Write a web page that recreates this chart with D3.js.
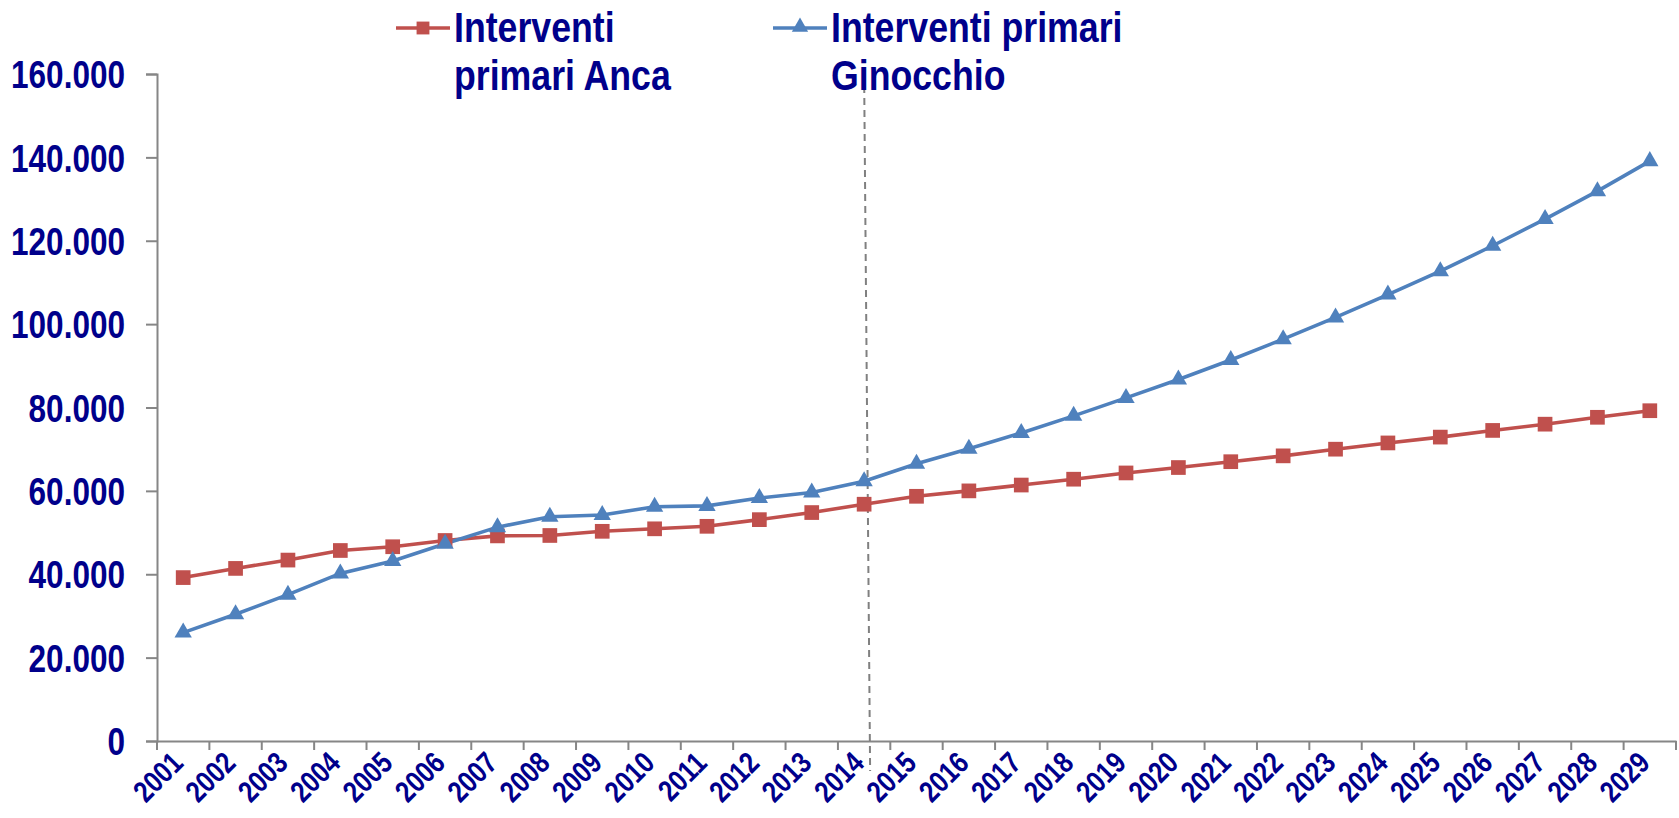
<!DOCTYPE html>
<html><head><meta charset="utf-8">
<script src="https://cdn.jsdelivr.net/npm/d3@7"></script>
<style>
html,body{margin:0;padding:0;background:#fff;}
svg{display:block;}
text{font-family:"Liberation Sans",Arial,sans-serif;font-weight:bold;fill:#00008B;}
</style></head>
<body>
<svg id="chart" width="1679" height="818"></svg>
<script>
const years = ["2001","2002","2003","2004","2005","2006","2007","2008","2009","2010","2011","2012","2013","2014","2015","2016","2017","2018","2019","2020","2021","2022","2023","2024","2025","2026","2027","2028","2029"];
const anca = [39200,41400,43400,45700,46600,48100,49200,49300,50300,50900,51500,53100,54800,56800,58700,60000,61400,62800,64300,65600,67000,68400,70000,71500,72900,74500,76000,77650,79230];
const ginocchio = [26000,30400,35100,40200,43200,47300,51300,53800,54200,56200,56400,58300,59600,62300,66500,70100,73900,78000,82300,86700,91400,96400,101600,107100,112700,118800,125200,131900,139100];
const yTicks = [0,20000,40000,60000,80000,100000,120000,140000,160000];
const seriesNames = [["Interventi","primari Anca"],["Interventi primari","Ginocchio"]];
const dividerYear = "2014";

const colors = ["#C0504D","#4F81BD"];
const SX = 0.83; // horizontal condensing to imitate a narrow font
const svg = d3.select("#chart");
const m = {left:157, right:3, top:74, bottom:77};
const W = 1679, H = 818;
const x = d3.scaleBand().domain(years).range([m.left, W-m.right]).padding(0);
const y = d3.scaleLinear().domain([0,160000]).range([H-m.bottom, m.top]);
const loc = d3.formatLocale({decimal:",",thousands:".",grouping:[3],currency:["",""]});
const fmt = loc.format(",");
const axisColor = "#868686";

// y axis
const ya = svg.append("g").attr("transform",`translate(${m.left},0)`)
  .call(d3.axisLeft(y).tickValues(yTicks).tickFormat(fmt).tickSize(11).tickPadding(21));
ya.select(".domain").attr("stroke",axisColor).attr("stroke-width",2);
ya.selectAll(".tick line").attr("stroke",axisColor).attr("stroke-width",2);
ya.selectAll(".tick text").attr("font-size",38).attr("dy","0.36em").attr("fill","#00008B")
  .attr("x",-32/SX).attr("transform",`scale(${SX},1)`);

// x axis
const xa = svg.append("g").attr("transform",`translate(0,${y(0)})`)
  .call(d3.axisBottom(x).tickSize(0).tickFormat(""));
xa.select(".domain").attr("stroke",axisColor).attr("stroke-width",2);
xa.selectAll(".tick").remove();
const bounds = years.map(d=>x(d)).concat([x(years[years.length-1])+x.bandwidth()]);
svg.append("g").selectAll("line").data(bounds).join("line")
  .attr("x1",d=>d).attr("x2",d=>d).attr("y1",y(0)).attr("y2",y(0)+9)
  .attr("stroke",axisColor).attr("stroke-width",2);
svg.append("g").selectAll("text").data(years).join("text")
  .attr("transform",d=>`translate(${x(d)+x.bandwidth()/2-6},${y(0)+16}) rotate(-45) scale(${SX},1)`)
  .attr("text-anchor","end").attr("dy","0.36em").attr("font-size",30).text(d=>d);

// dashed divider
const dx = x(dividerYear)+x.bandwidth()/2;
svg.append("line").attr("x1",dx).attr("y1",y(160000)).attr("x2",dx+6).attr("y2",y(0)+30)
  .attr("stroke","#808080").attr("stroke-width",2).attr("stroke-dasharray","7,5");

// lines
const cx = d=>x(d)+x.bandwidth()/2;
const line = d3.line().x((d,i)=>cx(years[i])).y(d=>y(d));
[anca,ginocchio].forEach((s,k)=>{
  svg.append("path").datum(s).attr("d",line).attr("fill","none").attr("stroke",colors[k]).attr("stroke-width",3.6);
});
const sq = d3.symbol().type(d3.symbolSquare).size(216);
const tri = d3.symbol().type(d3.symbolTriangle).size(130);
svg.append("g").selectAll("path").data(anca).join("path")
  .attr("d",sq).attr("transform",(d,i)=>`translate(${cx(years[i])},${y(d)})`).attr("fill",colors[0]);
svg.append("g").selectAll("path").data(ginocchio).join("path")
  .attr("d",tri).attr("transform",(d,i)=>`translate(${cx(years[i])},${y(d)})`).attr("fill",colors[1]);

// legend
const leg = [{x:396,sym:d3.symbol().type(d3.symbolSquare).size(165)},{x:773,sym:d3.symbol().type(d3.symbolTriangle).size(115)}];
leg.forEach((L,k)=>{
  const g = svg.append("g");
  g.append("line").attr("x1",L.x).attr("x2",L.x+54).attr("y1",28).attr("y2",28).attr("stroke",colors[k]).attr("stroke-width",3.6);
  g.append("path").attr("d",L.sym).attr("transform",`translate(${L.x+27},${k===1?27:28})`).attr("fill",colors[k]);
  seriesNames[k].forEach((t,j)=>{
    g.append("text").attr("transform",`translate(${L.x+58},${42+j*48}) scale(${SX},1)`)
      .attr("font-size",43).text(t);
  });
});
</script>
</body></html>
